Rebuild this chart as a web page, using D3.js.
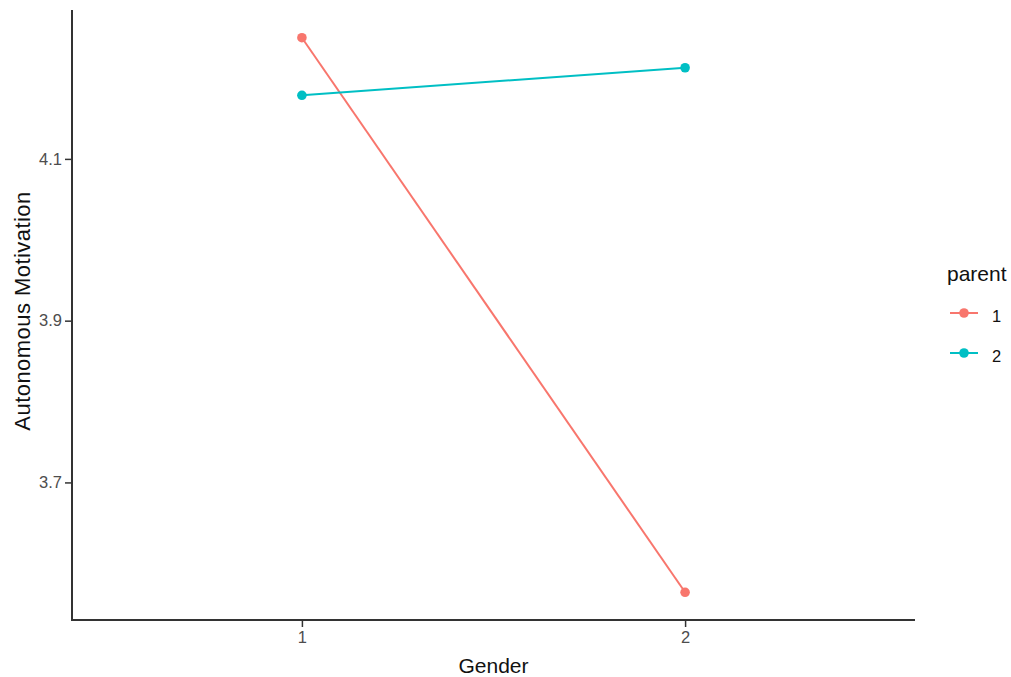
<!DOCTYPE html>
<html>
 <head>
  <meta charset="utf-8">
  <script src="https://d3js.org/d3.v7.min.js"></script>
  <style>
   body { margin: 0; background: #fff; }
   text { font-family: "Liberation Sans", Arial, sans-serif; }
  </style>
 </head>
 <body>
  <div id="chart"></div>
  <script type="text/javascript">
   // data
   var genders = ["1", "2"];
   var parents = ["1", "2"];
   var parent1 = [4.2498, 3.5642];
   var parent2 = [4.1786, 4.2127];
   var yTicks = [3.7, 3.9, 4.1];
   var colours = ["#F8766D", "#00BFC4"];

   var W = 1011, H = 677;
   var padL = 72, padR = 915, padT = 10, padB = 620;

   var svg = d3.select("#chart").append("svg")
      .attr("width", W).attr("height", H);

   // ggplot style expansion
   var all = parent1.concat(parent2);
   var lo = d3.min(all), hi = d3.max(all), pad = (hi - lo) * 0.05;
   var y = d3.scaleLinear().domain([lo - pad, hi + pad]).range([padB, padT]);
   var xi = d3.scaleLinear().domain([0.4, 2.6]).range([padL, padR]);
   var x = function (g) { return xi(genders.indexOf(g) + 1); };

   var series = [
     { name: parents[0], vals: parent1, col: colours[0] },
     { name: parents[1], vals: parent2, col: colours[1] }
   ];

   var line = d3.line()
      .x(function (d, i) { return x(genders[i]); })
      .y(function (d) { return y(d); });

   series.forEach(function (s) {
     svg.append("path")
        .attr("d", line(s.vals))
        .attr("fill", "none")
        .attr("stroke", s.col)
        .attr("stroke-width", 2);
     svg.selectAll(null).data(s.vals).enter().append("circle")
        .attr("cx", function (d, i) { return x(genders[i]); })
        .attr("cy", function (d) { return y(d); })
        .attr("r", 4.8)
        .attr("fill", s.col);
   });

   // axes
   var yAxis = d3.axisLeft(y).tickValues(yTicks).tickSize(7).tickPadding(3)
      .tickFormat(d3.format(".1f"));
   var gy = svg.append("g").attr("transform", "translate(" + padL + ",0)").call(yAxis);
   var xAxis = d3.axisBottom(xi).tickValues([1, 2]).tickSize(7).tickPadding(4)
      .tickFormat(function (d) { return genders[d - 1]; });
   var gx = svg.append("g").attr("transform", "translate(0," + padB + ")").call(xAxis);
   [gx, gy].forEach(function (g) {
     g.attr("font-size", 16.5).attr("font-family", null);
     g.select(".domain").remove();
     g.selectAll(".tick line").attr("stroke", "#333").attr("stroke-width", 1.5);
     g.selectAll(".tick text").attr("fill", "#4d4d4d");
   });
   svg.append("line").attr("x1", padL).attr("x2", padL).attr("y1", padT).attr("y2", padB + 1)
      .attr("stroke", "#333").attr("stroke-width", 2);
   svg.append("line").attr("x1", padL - 1).attr("x2", padR).attr("y1", padB).attr("y2", padB)
      .attr("stroke", "#333").attr("stroke-width", 2);

   // titles
   svg.append("text").attr("x", 493.5).attr("y", 673)
      .attr("text-anchor", "middle").style("font-size", "21px").attr("fill", "#111")
      .text("Gender");
   svg.append("text")
      .attr("transform", "translate(30,311) rotate(-90)")
      .attr("text-anchor", "middle").style("font-size", "22px")
      .style("letter-spacing", "0.45px").attr("fill", "#111")
      .text("Autonomous Motivation");

   // legend
   var lg = svg.append("g").attr("transform", "translate(947,0)");
   lg.append("text").attr("x", 0).attr("y", 281).style("font-size", "21px")
      .attr("fill", "#111").text("parent");
   series.forEach(function (s, i) {
     var cy = 313 + i * 40;
     lg.append("line").attr("x1", 3).attr("x2", 31).attr("y1", cy).attr("y2", cy)
        .attr("stroke", s.col).attr("stroke-width", 2);
     lg.append("circle").attr("cx", 17).attr("cy", cy).attr("r", 4.8).attr("fill", s.col);
     lg.append("text").attr("x", 45).attr("y", cy + 9).style("font-size", "16.5px")
        .attr("fill", "#111").text(s.name);
   });
  </script>
 </body>
</html>
